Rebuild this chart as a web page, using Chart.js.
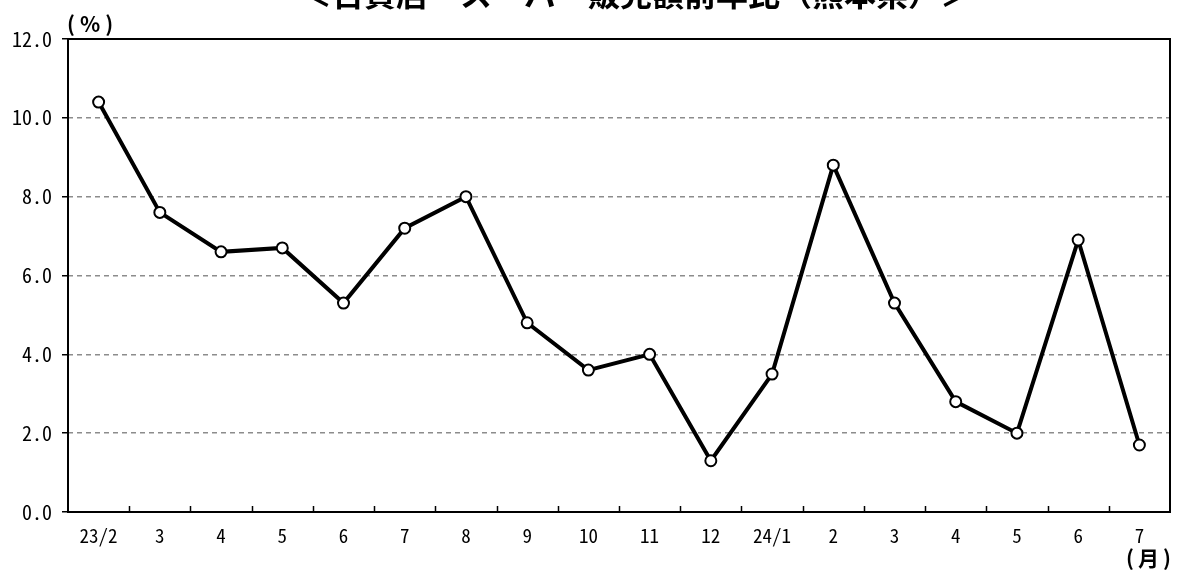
<!DOCTYPE html>
<html lang="ja">
<head>
  <meta charset="UTF-8" />
  <title>百貨店・スーパー販売額前年比（熊本県）</title>
  <script src="https://cdn.jsdelivr.net/npm/chart.js"></script>
  <style>
    body { margin: 0; background: #fff; }
    #wrap { width: 1178px; height: 570px; }
  </style>
</head>
<body>
  <div id="wrap"><canvas id="lineChart" width="1178" height="570"></canvas></div>
  <script>
    // データ
    const months = ['23/2', '3', '4', '5', '6', '7', '8', '9', '10', '11', '12', '24/1', '2', '3', '4', '5', '6', '7'];
    const yoy = [10.4, 7.6, 6.6, 6.7, 5.3, 7.2, 8.0, 4.8, 3.6, 4.0, 1.3, 3.5, 8.8, 5.3, 2.8, 2.0, 6.9, 1.7];
    const titleText = '＜百貨店・スーパー販売額前年比（熊本県）＞';
    const yUnit = '(%)';
    const xUnit = '(月)';

    const numFont = '"Noto Sans Mono CJK JP", "Liberation Sans Narrow", "Noto Sans CJK JP", sans-serif';
    const jpFont = '"Noto Sans CJK JP", sans-serif';

    // 枠線・目盛り・見出し
    const decor = {
      id: 'decor',
      afterDraw(chart) {
        const { ctx, chartArea: a, scales: { x } } = chart;
        ctx.save();
        ctx.strokeStyle = '#000';
        ctx.lineWidth = 2;
        ctx.strokeRect(a.left, a.top, a.right - a.left, a.bottom - a.top);

        // x軸の内向き目盛り（区切り位置）
        ctx.lineWidth = 1.5;
        ctx.beginPath();
        for (let i = 1; i < months.length; i++) {
          const px = Math.round((x.getPixelForValue(i - 1) + x.getPixelForValue(i)) / 2) + 0.5;
          ctx.moveTo(px, a.bottom);
          ctx.lineTo(px, a.bottom - 6);
        }
        ctx.stroke();

        ctx.fillStyle = '#000';
        ctx.textAlign = 'left';
        ctx.textBaseline = 'middle';
        ctx.font = 'bold 21px ' + jpFont;
        ctx.letterSpacing = '5px';
        ctx.fillText(yUnit, 67, 24);
        ctx.letterSpacing = '4px';
        ctx.fillText(xUnit, 1126, 558);
        ctx.letterSpacing = '0px';

        ctx.textAlign = 'center';
        ctx.font = 'bold 32px ' + jpFont;
        ctx.textBaseline = 'alphabetic';
        ctx.fillText(titleText, 636, 6);
        ctx.restore();
      }
    };

    new Chart(document.getElementById('lineChart').getContext('2d'), {
      type: 'line',
      data: {
        labels: months,
        datasets: [{
          data: yoy,
          borderColor: '#000',
          borderWidth: 4,
          pointRadius: 5.5,
          pointBorderWidth: 2,
          pointBackgroundColor: '#fff',
          pointBorderColor: '#000',
          tension: 0
        }]
      },
      options: {
        responsive: false,
        animation: false,
        layout: { padding: { top: 39, right: 8, left: 0, bottom: 0 } },
        plugins: { legend: { display: false }, tooltip: { enabled: false }, title: { display: false } },
        scales: {
          x: {
            offset: true,
            afterFit(s) { s.height = 58; },
            grid: { display: false },
            border: { display: false },
            ticks: {
              color: '#000',
              font: { family: numFont, size: 19 },
              padding: 4,
              maxRotation: 0,
              autoSkip: false
            }
          },
          y: {
            min: 0,
            max: 12,
            afterFit(s) { s.width = 68; },
            border: { display: false, dash: [5, 4] },
            grid: {
              color: (c) => (c.tick && (c.tick.value === 0 || c.tick.value === 12)) ? 'rgba(0,0,0,0)' : '#8c8c8c',
              lineWidth: 1.5,
              tickColor: '#000',
              tickLength: 6,
              tickWidth: 1.5
            },
            ticks: {
              stepSize: 2,
              color: '#000',
              padding: 10,
              font: { family: numFont, size: 20 },
              callback: (v) => v.toFixed(1)
            }
          }
        }
      },
      plugins: [decor]
    });
  </script>
</body>
</html>
